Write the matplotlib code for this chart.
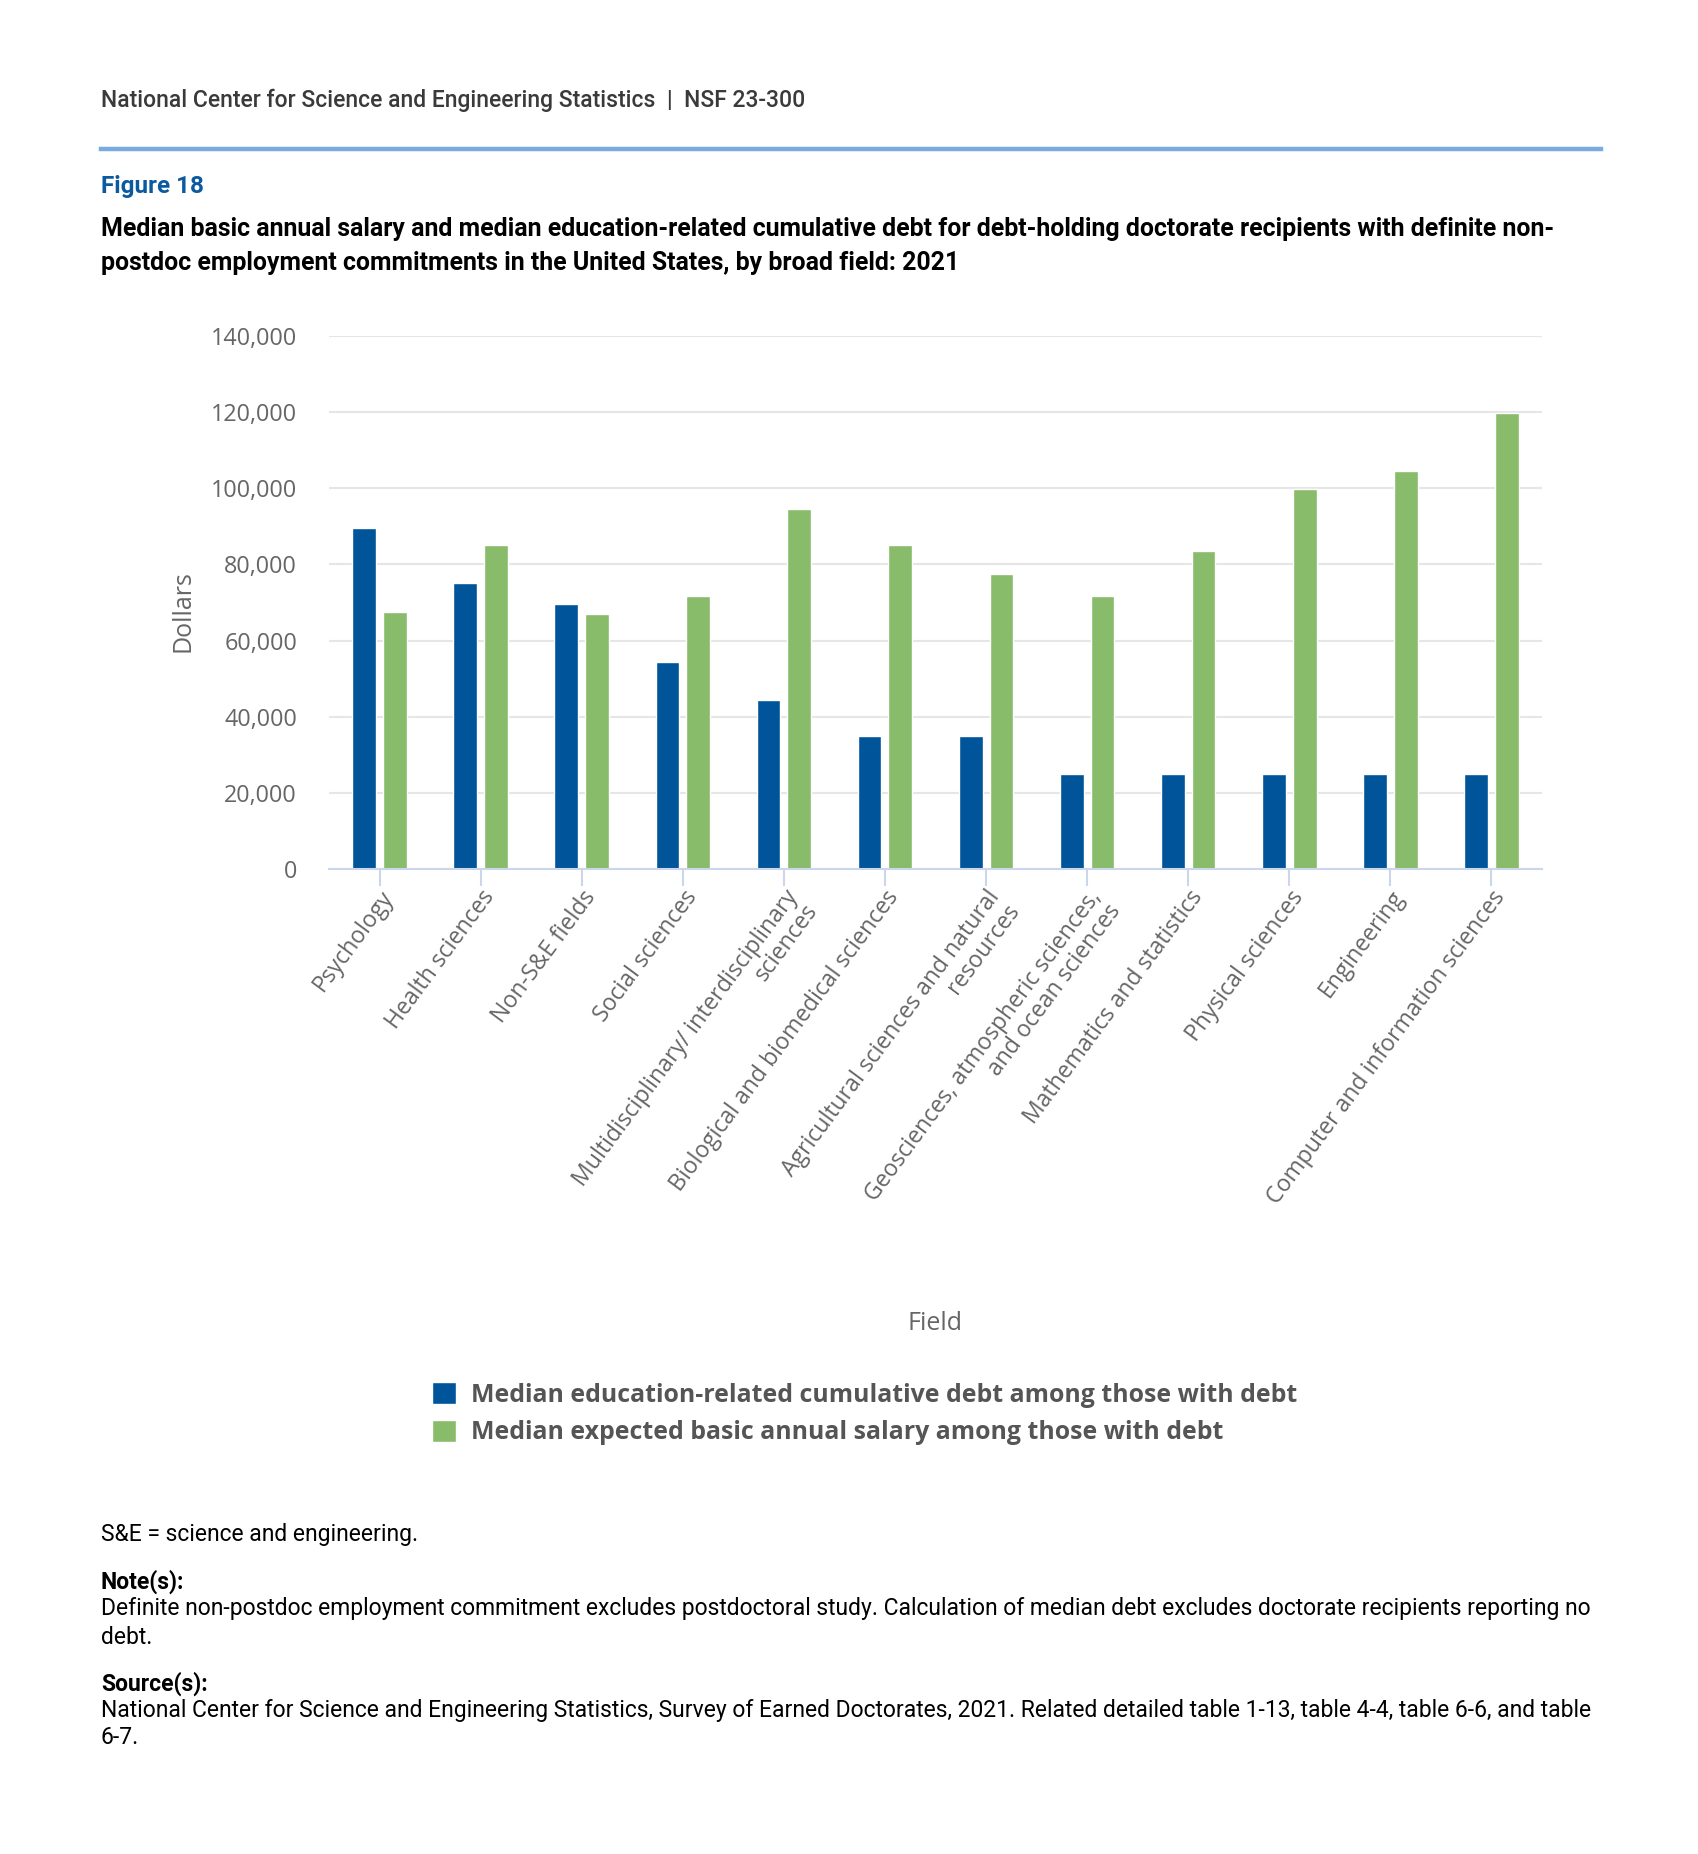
import matplotlib
matplotlib.use("Agg")
import matplotlib.pyplot as plt
import numpy as np

# data
fields = [
    "Psychology",
    "Health sciences",
    "Non-S&E fields",
    "Social sciences",
    "Multidisciplinary/ interdisciplinary\nsciences",
    "Biological and biomedical sciences",
    "Agricultural sciences and natural\nresources",
    "Geosciences, atmospheric sciences,\nand ocean sciences",
    "Mathematics and statistics",
    "Physical sciences",
    "Engineering",
    "Computer and information sciences",
]
debt = [89500, 75000, 69500, 54500, 44500, 35000, 35000, 25000, 25000, 25000, 25000, 25000]
salary = [67500, 85000, 67000, 71800, 94500, 85000, 77500, 71800, 83500, 99700, 104500, 119700]
yticks = [0, 20000, 40000, 60000, 80000, 100000, 120000, 140000]

W, H = 1699, 1854
fig = plt.figure(figsize=(W / 100, H / 100), dpi=100)

def fx(x):
    return x / W

def fy(y):
    return 1 - y / H

# header
fig.text(fx(101), fy(100), "National Center for Science and Engineering Statistics  |  NSF 23-300",
         family="Roboto", fontweight=500, fontsize=16.5, color="#3a3a3a", va="center")
fig.add_artist(plt.Line2D([fx(101), fx(1601)], [fy(149), fy(149)], color="#7aaae2", lw=3.2))
fig.text(fx(101), fy(186), "Figure 18", family="Roboto", fontweight="bold", fontsize=17.5,
         color="#0b5aa0", va="center")
fig.text(fx(101), fy(229), "Median basic annual salary and median education-related cumulative debt for "
         "debt-holding doctorate recipients with definite non-", family="Roboto", fontweight="bold",
         fontsize=17.95, color="black", va="center")
fig.text(fx(101), fy(263), "postdoc employment commitments in the United States, by broad field: 2021",
         family="Roboto", fontweight="bold", fontsize=17.95, color="black", va="center")

# chart
ax = fig.add_axes([fx(329), fy(869), fx(1542) - fx(329), (869 - 336) / H])
x = np.arange(len(fields))
blue = "#00549a"
green = "#88bb6a"
ax.bar(x - 0.152, debt, width=0.235, color=blue, edgecolor="white", linewidth=1, zorder=3,
       label="Median education-related cumulative debt among those with debt")
ax.bar(x + 0.152, salary, width=0.235, color=green, edgecolor="white", linewidth=1, zorder=3,
       label="Median expected basic annual salary among those with debt")

ax.set_xlim(-0.5, len(fields) - 0.5)
ax.set_ylim(0, 140000)
ax.set_yticks(yticks)
ax.set_yticklabels([f"{v:,}" for v in yticks], family="Open Sans", fontsize=16.8, color="#666666")
ax.yaxis.grid(True, color="#e6e6e6", lw=1.5, zorder=0)
ax.tick_params(axis="y", length=0, pad=23)
for s in ["top", "right", "left"]:
    ax.spines[s].set_visible(False)
ax.spines["bottom"].set_color("#ccd6eb")
ax.spines["bottom"].set_linewidth(1.5)
ax.spines["bottom"].set_zorder(4)

ax.set_xticks(x)
ax.set_xticklabels(fields, rotation=53.5, ha="right", va="top", rotation_mode="anchor",
                   multialignment="right", family="Open Sans", fontsize=16.6, color="#666666",
                   linespacing=1.0)
ax.tick_params(axis="x", length=12, width=1.5, color="#ccd6eb", pad=0)

fig.text(fx(183), fy(611), "Dollars", family="Open Sans", fontsize=18, color="#666666",
         rotation=90, ha="center", va="center")
fig.text(fx(935), fy(1323), "Field", family="Open Sans", fontsize=18, color="#666666",
         ha="center", va="center")

leg = fig.legend(loc="upper left", bbox_to_anchor=(fx(410), fy(1360)), frameon=False,
                 prop={"family": "Open Sans", "weight": "bold", "size": 17.9},
                 handlelength=0.95, handleheight=0.95, handletextpad=0.6, labelspacing=0.5)
for t in leg.get_texts():
    t.set_color("#555555")

# footer
foot = dict(family="Roboto", fontsize=16.5, color="black", va="center")
fig.text(fx(101), fy(1534), "S&E = science and engineering.", **foot)
fig.text(fx(101), fy(1582), "Note(s):", fontweight="bold", **foot)
fig.text(fx(101), fy(1609), "Definite non-postdoc employment commitment excludes postdoctoral study. "
         "Calculation of median debt excludes doctorate recipients reporting no", **foot)
fig.text(fx(101), fy(1637), "debt.", **foot)
fig.text(fx(101), fy(1684), "Source(s):", fontweight="bold", **foot)
fig.text(fx(101), fy(1711), "National Center for Science and Engineering Statistics, Survey of Earned "
         "Doctorates, 2021. Related detailed table 1-13, table 4-4, table 6-6, and table", **foot)
fig.text(fx(101), fy(1738), "6-7.", **foot)

fig.savefig("out.png", dpi=100)
